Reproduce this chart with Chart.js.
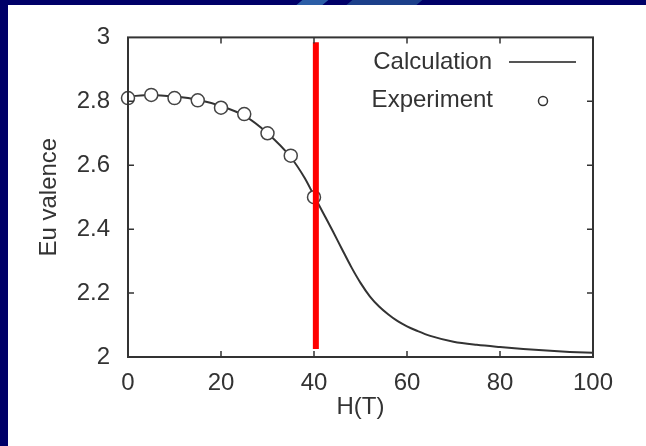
<!DOCTYPE html>
<html>
<head>
<meta charset="utf-8">
<script src="https://cdn.jsdelivr.net/npm/chart.js@4/dist/chart.umd.min.js"></script>
<style>
  html, body { margin: 0; padding: 0; }
  body { width: 646px; height: 446px; background: #000068; position: relative; overflow: hidden; }
  .swoosh { position: absolute; top: -4px; height: 12px; background: #2b5da6; transform: skewX(-50deg); }
  .panel { position: absolute; left: 8px; top: 5px; width: 638px; height: 441px; background: #fff; }
  canvas { display: block; }
</style>
</head>
<body>
<div class="swoosh" style="left:300px;width:26px;"></div>
<div class="swoosh" style="left:350px;width:70px;background:#1c3f8a;"></div>
<div class="panel"><canvas id="chart" width="638" height="441"></canvas></div>
<script>
// experiment points (H in T, Eu valence)
const expH = [0, 5, 10, 15, 20, 25, 30, 35, 40];
const expV = [2.81, 2.82, 2.81, 2.803, 2.78, 2.76, 2.70, 2.63, 2.50];

// calculated curve
const calcH = [0, 5, 10, 15, 20, 25, 30, 35, 38, 40, 42, 44, 46, 48, 50, 52, 54, 56, 58, 60, 62, 65, 70, 75, 80, 85, 90, 95, 100];
const calcV = [2.815, 2.82, 2.815, 2.805, 2.785, 2.755, 2.70, 2.625, 2.56, 2.505, 2.45, 2.395, 2.338, 2.282, 2.232, 2.19, 2.158, 2.133, 2.112, 2.096, 2.083, 2.066, 2.048, 2.038, 2.031, 2.025, 2.02, 2.016, 2.013];

// red marker line at 40 T
const markH = [40.4, 40.4];
const markV = [2.025, 2.985];

const xTicks = [0, 20, 40, 60, 80, 100];
const yTicks = [2, 2.2, 2.4, 2.6, 2.8, 3];

const FONT = "'Liberation Sans', Arial, sans-serif";
const INK = "#333";

const inwardTicks = {
  id: "inwardTicks",
  afterDatasetsDraw(chart) {
    const { ctx, chartArea: a, scales } = chart;
    ctx.save();
    ctx.strokeStyle = INK;
    ctx.lineWidth = 1.5;
    ctx.beginPath();
    xTicks.slice(1, -1).forEach((v) => {
      const px = scales.x.getPixelForValue(v);
      ctx.moveTo(px, a.bottom); ctx.lineTo(px, a.bottom - 6);
      ctx.moveTo(px, a.top); ctx.lineTo(px, a.top + 6);
    });
    yTicks.slice(1, -1).forEach((v) => {
      const py = scales.y.getPixelForValue(v);
      ctx.moveTo(a.left, py); ctx.lineTo(a.left + 6, py);
      ctx.moveTo(a.right, py); ctx.lineTo(a.right - 6, py);
    });
    ctx.stroke();
    ctx.lineWidth = 2;
    ctx.strokeRect(a.left, a.top, a.right - a.left, a.bottom - a.top);
    ctx.restore();
  },
  afterDraw(chart) {
    const { ctx } = chart;
    ctx.save();
    ctx.font = "24px " + FONT;
    ctx.fillStyle = INK;
    ctx.textAlign = "right";
    ctx.textBaseline = "middle";
    ctx.fillText("Calculation", 484, 57);
    ctx.fillText("Experiment", 485, 95);
    ctx.strokeStyle = "#555";
    ctx.lineWidth = 2;
    ctx.beginPath();
    ctx.moveTo(501, 57); ctx.lineTo(568, 57);
    ctx.stroke();
    ctx.strokeStyle = INK;
    ctx.lineWidth = 1.5;
    ctx.beginPath();
    ctx.arc(535, 96, 4.5, 0, Math.PI * 2);
    ctx.stroke();
    ctx.restore();
  },
};

new Chart(document.getElementById("chart"), {
  type: "scatter",
  data: {
    datasets: [
      {
        label: "mark",
        type: "line",
        data: markH.map((h, i) => ({ x: h, y: markV[i] })),
        borderColor: "#ff0000",
        borderWidth: 6,
        borderCapStyle: "butt",
        pointRadius: 0,
        order: 0,
      },
      {
        label: "Experiment",
        data: expH.map((h, i) => ({ x: h, y: expV[i] })),
        pointRadius: 6.5,
        pointBorderWidth: 1.5,
        pointBorderColor: "#444",
        pointBackgroundColor: "#fff",
        clip: false,
        order: 1,
      },
      {
        label: "Calculation",
        type: "line",
        data: calcH.map((h, i) => ({ x: h, y: calcV[i] })),
        borderColor: "#333",
        borderWidth: 2,
        pointRadius: 0,
        cubicInterpolationMode: "monotone",
        order: 2,
      },
    ],
  },
  options: {
    responsive: false,
    animation: false,
    layout: { padding: { top: 26, right: 53, left: 27, bottom: 24 } },
    plugins: { legend: { display: false }, tooltip: { enabled: false } },
    scales: {
      x: {
        type: "linear",
        min: 0,
        max: 100,
        afterBuildTicks: (s) => { s.ticks = xTicks.map((v) => ({ value: v })); },
        afterFit: (s) => { s.height = 65; },
        grid: { display: false, drawTicks: false },
        border: { display: false },
        ticks: { padding: 12, color: INK, font: { family: FONT, size: 24 } },
        title: { display: true, text: "H(T)", color: INK, padding: { top: 0, bottom: 0 }, font: { family: FONT, size: 24 } },
      },
      y: {
        min: 2,
        max: 3,
        afterBuildTicks: (s) => { s.ticks = yTicks.map((v) => ({ value: v })); },
        afterFit: (s) => { s.width = 93; },
        grid: { display: false, drawTicks: false },
        border: { display: false },
        ticks: { padding: 18, color: INK, font: { family: FONT, size: 24 }, callback: (v) => String(Math.round(v * 10) / 10) },
        title: { display: true, text: "Eu valence", color: INK, padding: { top: 0, bottom: 0 }, font: { family: FONT, size: 24 } },
      },
    },
  },
  plugins: [inwardTicks],
});
</script>
</body>
</html>
